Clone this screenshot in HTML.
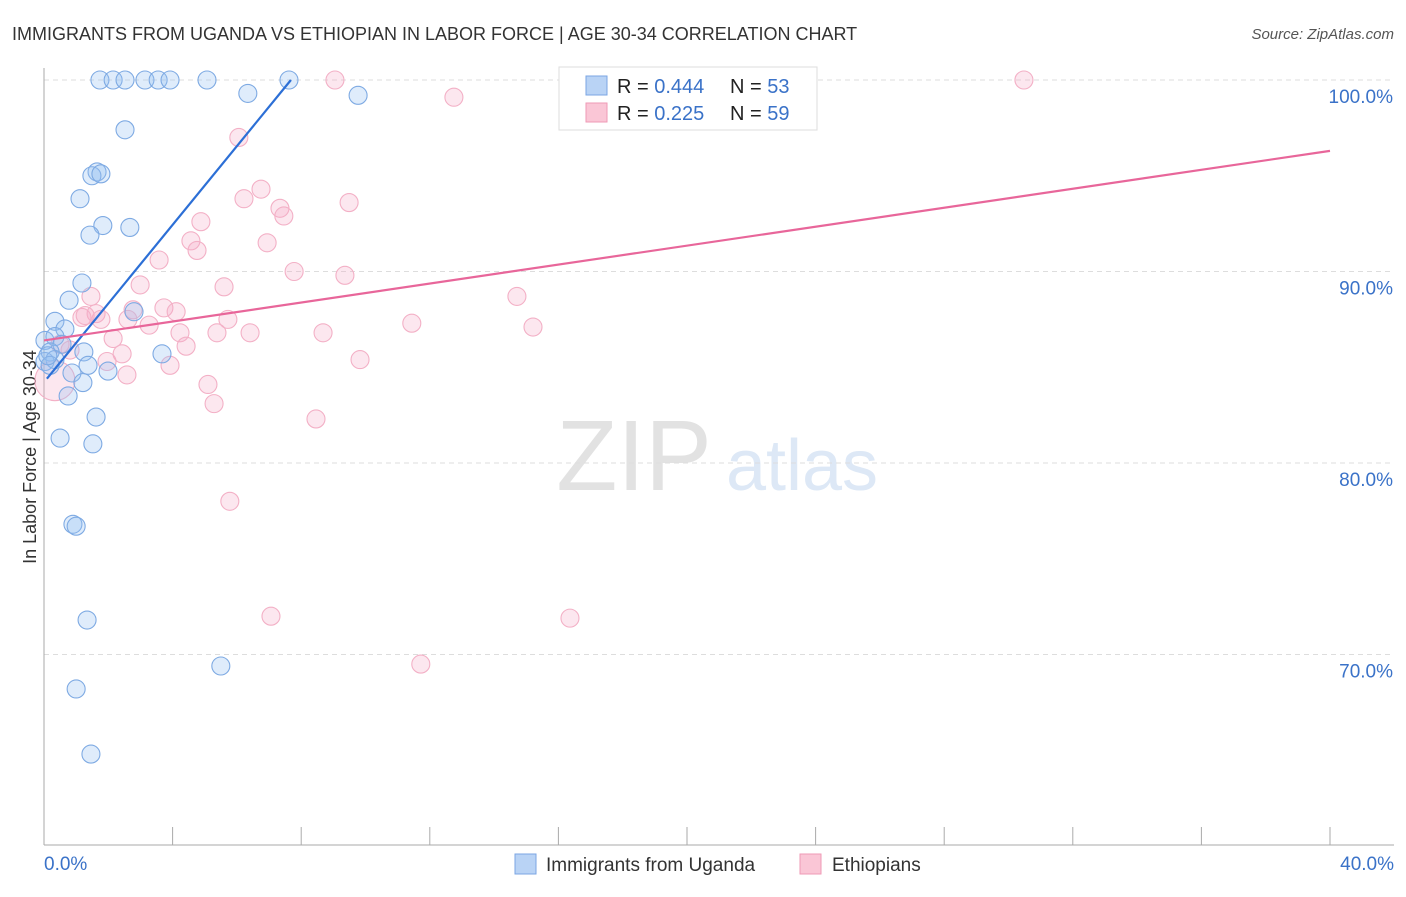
<!DOCTYPE html>
<html><head><meta charset="utf-8"><style>
body{margin:0;background:#fff;font-family:"Liberation Sans",sans-serif}
svg text{font-family:"Liberation Sans",sans-serif}
</style></head><body>
<svg id="c" width="1406" height="892" xmlns="http://www.w3.org/2000/svg">
<text x="12" y="40" font-size="18" fill="#333">IMMIGRANTS FROM UGANDA VS ETHIOPIAN IN LABOR FORCE | AGE 30-34 CORRELATION CHART</text>
<text x="1394" y="39" font-size="15" fill="#555" font-style="italic" text-anchor="end">Source: ZipAtlas.com</text>
<text x="36" y="457" font-size="18" fill="#333" text-anchor="middle" transform="rotate(-90 36 457)">In Labor Force | Age 30-34</text>
<g><text x="634" y="490" font-size="100" fill="#e2e2e2" font-family="Liberation Serif" text-anchor="middle">ZIP</text><text x="802" y="490" font-size="72" fill="#dde8f6" text-anchor="middle">atlas</text></g>
<g id="grid"></g><g id="axes"></g><g id="pts"></g><g id="lines"></g>
<g>
<rect x="559" y="67" width="258" height="63" fill="#fff" stroke="#ddd"/>
<rect x="586" y="76" width="21" height="19" fill="#b9d3f5" stroke="#7ba6e3"/>
<rect x="586" y="103" width="21" height="19" fill="#fac6d6" stroke="#ef9ab6"/>
<text x="617" y="93" font-size="20" fill="#222">R = <tspan fill="#3a72c8">0.444</tspan></text>
<text x="730" y="93" font-size="20" fill="#222">N = <tspan fill="#3a72c8">53</tspan></text>
<text x="617" y="120" font-size="20" fill="#222">R = <tspan fill="#3a72c8"> 0.225</tspan></text>
<text x="730" y="120" font-size="20" fill="#222">N = <tspan fill="#3a72c8">59</tspan></text>
</g>
<g>
<rect x="515" y="854" width="21" height="20" fill="#b9d3f5" stroke="#7ba6e3"/>
<text x="546" y="871" font-size="19" fill="#333">Immigrants from Uganda</text>
<rect x="800" y="854" width="21" height="20" fill="#fac6d6" stroke="#ef9ab6"/>
<text x="832" y="871" font-size="19" fill="#333">Ethiopians</text>
</g>
</svg>
<script>
const xTicks=[0,5,10,15,20,25,30,35,40];
const yTicks=[70,80,90,100];
const yTickLabels=["70.0%","80.0%","90.0%","100.0%"];
const ugandaX=[1.74,2.15,2.52,3.14,3.55,3.92,5.07,7.62,6.34,9.77,2.52,1.65,1.49,1.77,1.12,1.83,1.43,2.67,1.18,0.78,0.34,0.65,0.03,0.34,0.56,0.19,1.24,3.67,0.03,0.34,0.87,1.37,1.99,1.21,0.75,2.80,1.62,0.50,1.52,0.90,1.00,1.34,5.50,1.00,1.46,0.19,0.12];
const ugandaY=[100,100,100,100,100,100,100,100,99.3,99.2,97.4,95.2,95.0,95.1,93.8,92.4,91.9,92.3,89.4,88.5,87.4,87.0,86.4,86.6,86.2,85.8,85.8,85.7,85.3,85.4,84.7,85.1,84.8,84.2,83.5,87.9,82.4,81.3,81.0,76.8,76.7,71.8,69.4,68.2,64.8,85.1,85.6];
const ethX=[9.05,20.71,30.48,12.75,6.06,6.75,6.22,7.34,7.46,9.49,4.88,4.57,4.76,6.94,3.58,7.78,9.36,5.60,2.99,1.46,14.71,3.73,2.77,4.11,1.62,1.18,1.77,2.61,3.27,5.72,11.44,15.21,8.68,4.23,5.38,6.41,2.15,4.42,2.43,9.83,1.96,3.92,2.58,5.10,5.29,8.46,5.78,7.06,16.36,11.72,0.50,0.81,1.28,0.34];
const ethY=[100,100,100,99.1,97.0,94.3,93.8,93.3,92.9,93.6,92.6,91.6,91.1,91.5,90.6,90.0,89.8,89.2,89.3,88.7,88.7,88.1,88.0,87.9,87.8,87.6,87.5,87.5,87.2,87.5,87.3,87.1,86.8,86.8,86.8,86.8,86.5,86.1,85.7,85.4,85.3,85.1,84.6,84.1,83.1,82.3,78.0,72.0,71.9,69.5,86.2,85.9,87.7,84.3];
const ugandaTrendX=[0.09,7.68];const ugandaTrendY=[84.4,100];
const ethTrendX=[0,40];const ethTrendY=[86.4,96.3];
const X=v=>44+v*1286/40, Y=v=>80+(100-v)*19.15;
const NS="http://www.w3.org/2000/svg";
function mk(t,a,p){const e=document.createElementNS(NS,t);for(const k in a)e.setAttribute(k,a[k]);p.appendChild(e);return e;}
const grid=document.getElementById('grid'),axes=document.getElementById('axes'),pts=document.getElementById('pts'),lines=document.getElementById('lines');
yTicks.forEach((t,i)=>{
 const l=mk('line',{x1:44,x2:1394,y1:Y(t),y2:Y(t),stroke:'#ddd','stroke-dasharray':'5,4'},grid);
 
 
 const tx=mk('text',{x:1393,y:Y(t)+23,'font-size':19,fill:'#3a72c8','text-anchor':'end'},axes);
 tx.textContent=yTickLabels[i];
 
 
});
const ya=mk('line',{x1:44,x2:44,y1:68,y2:845,stroke:'#aaa'},axes);


const xa=mk('line',{x1:44,x2:1394,y1:845,y2:845,stroke:'#aaa'},axes);


for(let v=0;v<=40;v+=4){const tk=mk('line',{x1:X(v),x2:X(v),y1:827,y2:845,stroke:'#aaa'},axes);
 
 }
[[0,'0.0%','start',44],[40,'40.0%','end',1394]].forEach(d=>{const t=mk('text',{x:d[3],y:870,'font-size':19,fill:'#3a72c8','text-anchor':d[2]},axes);t.textContent=d[1];
 
 });
ethX.forEach((x,i)=>{const c=mk('circle',{cx:X(x),cy:Y(ethY[i]),r:i==ethX.length-1?20:9,fill:'rgba(246,170,196,0.28)',stroke:'#f3b0c6','stroke-width':1.1},pts);
 
 });
ugandaX.forEach((x,i)=>{const c=mk('circle',{cx:X(x),cy:Y(ugandaY[i]),r:9,fill:'rgba(150,192,242,0.3)',stroke:'#7eaae3','stroke-width':1.1},pts);
 
 });
const l1=mk('line',{x1:X(ugandaTrendX[0]),y1:Y(ugandaTrendY[0]),x2:X(ugandaTrendX[1]),y2:Y(ugandaTrendY[1]),stroke:'#2c6fd6','stroke-width':2.2},lines);


const l2=mk('line',{x1:X(ethTrendX[0]),y1:Y(ethTrendY[0]),x2:X(ethTrendX[1]),y2:Y(ethTrendY[1]),stroke:'#e8669a','stroke-width':2.2},lines);


</script>
</body></html>
